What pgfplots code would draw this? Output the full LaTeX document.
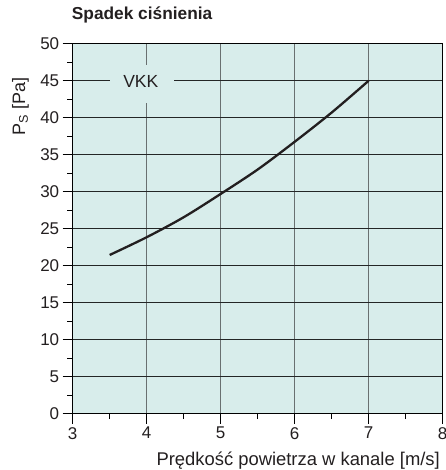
\documentclass[border=0pt]{standalone}
\usepackage{fontspec}
\setmainfont{Liberation Sans}
\usepackage{pgfplots}
\pgfplotsset{compat=1.18}
\definecolor{bg}{RGB}{216,237,235}
\definecolor{xgrid}{RGB}{105,112,112}
\definecolor{ygrid}{RGB}{35,38,38}
\definecolor{ink}{RGB}{35,31,32}
\begin{document}
\begin{tikzpicture}
\begin{axis}[
  at={(0,0)}, anchor=south west,
  scale only axis, width=370pt, height=370pt,
  xmin=3, xmax=8, ymin=0, ymax=50,
  xtick={3,4,5,6,7,8}, ytick={0,5,...,50},
  minor x tick num=1, minor y tick num=1,
  tick pos=left, tick align=outside,
  major tick length=10pt, minor tick length=5.5pt,
  xmajorgrids, ymajorgrids,
  x grid style={color=xgrid, line width=1.3pt},
  y grid style={color=ygrid, line width=1pt},
  axis background/.style={fill=bg},
  axis line style={line width=1.4pt, black},
  tick style={line width=1.2pt, black},
  tick label style={font=\fontsize{17}{20}\selectfont, text=ink},
  /pgf/number format/assume math mode=true,
  title={\bfseries Spadek ciśnienia},
  title style={font=\fontsize{17.3}{20}\selectfont, text=ink, at={(axis description cs:-0.0027,1.0486)}, anchor=base west, inner sep=0pt},
  xlabel={Prędkość powietrza w kanale [m/s]},
  xlabel style={font=\fontsize{18.4}{21}\selectfont, text=ink, at={(axis description cs:0.9927,-0.1405)}, anchor=base east, inner sep=0pt},
  ylabel={P\textsubscript{S} [Pa]},
  ylabel style={font=\fontsize{18}{21}\selectfont, text=ink, at={(axis description cs:-0.1289,0.7505)}, anchor=base west, inner sep=0pt},
  clip=false,
]
\addplot[ink, line width=2.3pt, smooth] coordinates {
  (3.5,21.45) (4,23.85) (4.5,26.55) (5,29.7) (5.5,33.0) (6,36.75) (6.5,40.7) (7,45.0)
};
\node[fill=bg, inner sep=0pt, minimum width=64pt, minimum height=37.7pt] at (axis cs:3.94,44.55) {};
\node[inner sep=0pt, font=\fontsize{17.5}{20}\selectfont, text=ink] at (axis cs:3.92,44.93) {VKK};
\end{axis}
\pgfresetboundingbox
\useasboundingbox (-72.7pt,-56.3pt) rectangle (372.3pt,413.7pt);
\end{tikzpicture}
\end{document}
